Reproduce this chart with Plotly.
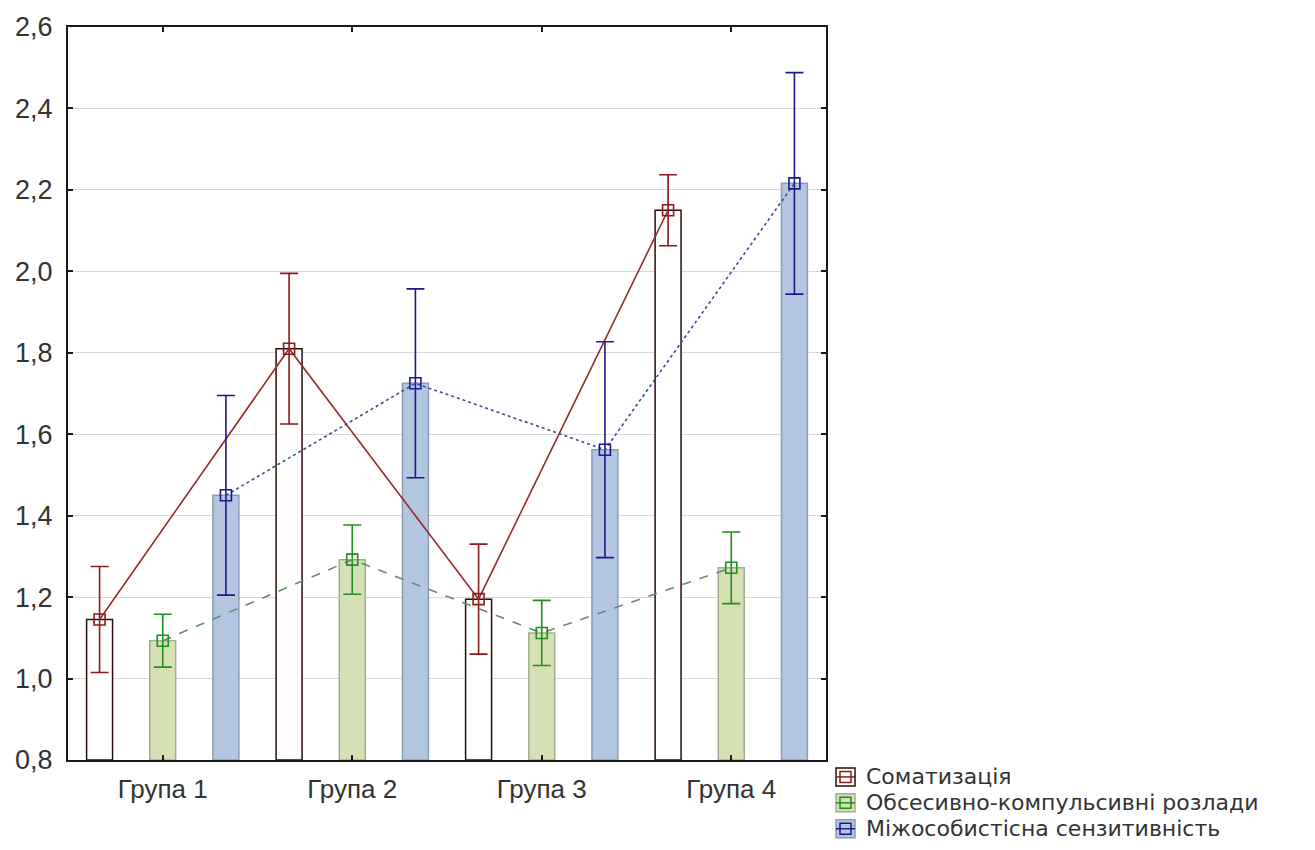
import plotly.graph_objects as go

groups = ["Група 1", "Група 2", "Група 3", "Група 4"]
series_names = ["Соматизація", "Обсесивно-компульсивні розлади", "Міжособистісна сензитивність"]

somat = [1.145, 1.81, 1.195, 2.15]
somat_err = [0.13, 0.185, 0.135, 0.087]
obses = [1.093, 1.292, 1.112, 1.272]
obses_err = [0.065, 0.085, 0.08, 0.088]
mizh = [1.45, 1.725, 1.562, 2.216]
mizh_err = [0.245, 0.232, 0.265, 0.272]

values = [somat, obses, mizh]
errors = [somat_err, obses_err, mizh_err]
offsets = [-1 / 3, 0.0, 1 / 3]

bar_fill = ["#ffffff", "#d5e0b5", "#b3c6e0"]
bar_edge = ["#2b0d0d", "#a3ad93", "#8c9cba"]
err_color = ["#8b1a1a", "#1f8f1f", "#1a1a8c"]
line_color = ["#9a2a2a", "#5e9060", "#3c4c92"]
line_dash = ["solid", "dash", "dot"]

# figure geometry (pixels)
W, H = 1315, 850
ML, MR, MT, MB = 68, 489, 24, 90
PW, PH = W - ML - MR, H - MT - MB


def px_x(p):
    return (p - ML) / PW


def px_y(p):
    return (H - MB - p) / PH


fig = go.Figure()
base_x = list(range(len(groups)))

for k in range(3):
    xs = [i + offsets[k] for i in base_x]
    fig.add_trace(go.Bar(
        x=xs, y=[v - 0.8 for v in values[k]], base=0.8,
        width=0.137, name=series_names[k],
        marker=dict(color=bar_fill[k], line=dict(color=bar_edge[k], width=1.5)),
        hoverinfo="skip",
    ))

for k in range(3):
    xs = [i + offsets[k] for i in base_x]
    fig.add_trace(go.Scatter(
        x=xs, y=values[k], mode="lines+markers",
        line=dict(color=line_color[k], width=1.6, dash=line_dash[k]),
        marker=dict(symbol="square-open", size=11, color=err_color[k],
                    line=dict(width=1.6, color=err_color[k])),
        error_y=dict(type="data", array=errors[k], visible=True,
                     color=err_color[k], thickness=1.6, width=9),
        hoverinfo="skip",
    ))

# legend drawn below-right of the plot area
shapes = []
annotations = []
row_y = [777, 803, 829]
for k in range(3):
    cy = row_y[k]
    shapes.append(dict(type="rect", xref="paper", yref="paper",
                       x0=px_x(836), x1=px_x(855), y0=px_y(cy + 9), y1=px_y(cy - 9),
                       fillcolor=bar_fill[k], line=dict(color=bar_edge[k], width=1.5)))
    shapes.append(dict(type="line", xref="paper", yref="paper",
                       x0=px_x(836), x1=px_x(855), y0=px_y(cy), y1=px_y(cy),
                       line=dict(color=err_color[k], width=1.5)))
    shapes.append(dict(type="rect", xref="paper", yref="paper",
                       x0=px_x(840), x1=px_x(851), y0=px_y(cy + 5.5), y1=px_y(cy - 5.5),
                       fillcolor="rgba(0,0,0,0)", line=dict(color=err_color[k], width=1.5)))
    annotations.append(dict(xref="paper", yref="paper", x=px_x(864), y=px_y(cy),
                            xanchor="left", yanchor="middle", showarrow=False,
                            text=series_names[k],
                            font=dict(family="DejaVu Sans, sans-serif", size=22,
                                      color="#333333")))

fig.update_layout(
    width=W, height=H,
    margin=dict(l=ML, r=MR, t=MT, b=MB),
    paper_bgcolor="white", plot_bgcolor="white",
    barmode="overlay", showlegend=False,
    separators=", ",
    font=dict(family="Liberation Sans, Arial, sans-serif", size=25, color="#333333"),
    shapes=shapes, annotations=annotations,
)

fig.update_xaxes(
    range=[-0.5, 3.5], tickmode="array", tickvals=base_x, ticktext=groups,
    showline=True, linecolor="#1a1a1a", linewidth=2, mirror="ticks",
    ticks="inside", ticklen=5, tickcolor="#1a1a1a", tickwidth=1.5,
    showgrid=False, zeroline=False, tickfont=dict(size=26),
    ticklabelstandoff=5,
)
fig.update_yaxes(
    range=[0.8, 2.6], dtick=0.2, tick0=0.8, tickformat=".1f",
    showline=True, linecolor="#1a1a1a", linewidth=2, mirror="ticks",
    ticks="inside", ticklen=5, tickcolor="#1a1a1a", tickwidth=1.5,
    showgrid=True, gridcolor="#d9d9d9", gridwidth=1, zeroline=False,
    tickfont=dict(size=27), ticklabelstandoff=8,
)

fig.write_html("out.html")
